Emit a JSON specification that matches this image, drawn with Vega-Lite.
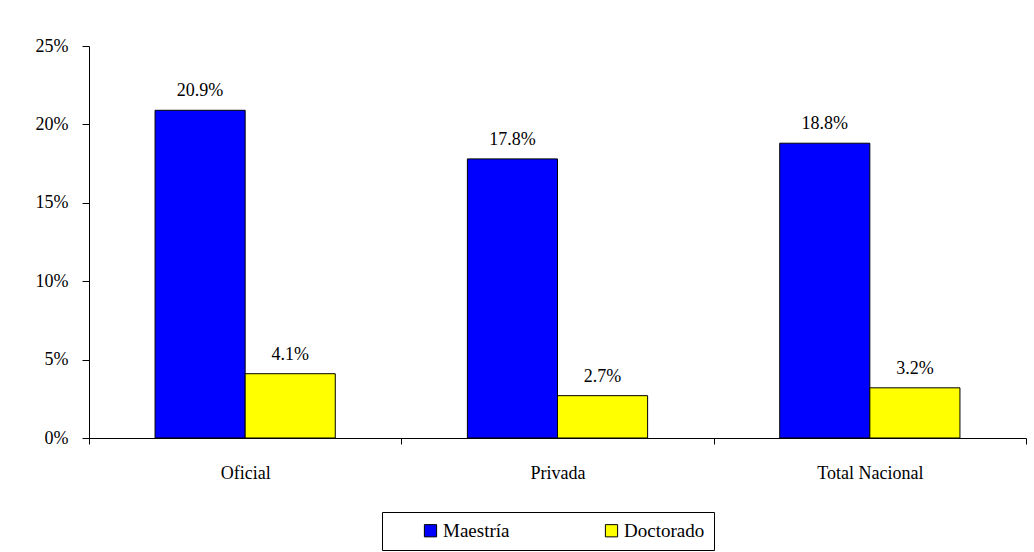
{
  "$schema": "https://vega.github.io/schema/vega-lite/v6.json",
  "autosize": "none",
  "width": 937,
  "height": 392,
  "padding": {"left": 89, "top": 46, "right": 8, "bottom": 114},
  "background": "white",
  "config": {
    "view": {"stroke": null},
    "font": "Liberation Serif",
    "axis": {"labelFont": "Liberation Serif", "labelFontSize": 18, "labelColor": "black", "domainColor": "black", "tickColor": "black", "grid": false, "title": null}
  },
  "data": {
    "values": [
      {"sector": "Oficial", "nivel": "Maestría", "valor": 0.209},
      {"sector": "Oficial", "nivel": "Doctorado", "valor": 0.041},
      {"sector": "Privada", "nivel": "Maestría", "valor": 0.178},
      {"sector": "Privada", "nivel": "Doctorado", "valor": 0.027},
      {"sector": "Total Nacional", "nivel": "Maestría", "valor": 0.188},
      {"sector": "Total Nacional", "nivel": "Doctorado", "valor": 0.032}
    ]
  },
  "encoding": {
    "x": {"field": "sector", "type": "nominal", "sort": ["Oficial", "Privada", "Total Nacional"],
      "scale": {"paddingInner": 0, "paddingOuter": 0},
      "axis": {"labelAngle": 0, "tickBand": "extent", "tickSize": 6, "labelPadding": 20, "domainWidth": 1}},
    "xOffset": {"field": "nivel", "type": "nominal", "sort": ["Maestría", "Doctorado"],
      "scale": {"paddingInner": 0, "paddingOuter": 0.733}},
    "y": {"field": "valor", "type": "quantitative", "scale": {"domain": [0, 0.25]},
      "axis": {"format": ".0%", "values": [0, 0.05, 0.1, 0.15, 0.2, 0.25], "tickSize": 7, "labelPadding": 14}}
  },
  "layer": [
    {
      "mark": {"type": "bar", "stroke": "black", "strokeWidth": 1},
      "encoding": {
        "color": {"field": "nivel", "type": "nominal", "sort": ["Maestría", "Doctorado"],
          "scale": {"domain": ["Maestría", "Doctorado"], "range": ["#0000FF", "#FFFF00"]},
          "legend": {"title": null, "orient": "none", "direction": "horizontal", "legendX": 293, "legendY": 466,
            "strokeColor": "black", "fillColor": "white", "padding": 9,
            "symbolType": "square", "symbolSize": 150, "symbolStrokeColor": "black", "symbolStrokeWidth": 1,
            "labelFont": "Liberation Serif", "labelFontSize": 19, "labelColor": "black",
            "columnPadding": 62, "symbolOffset": 30, "labelOffset": 3}}
      }
    },
    {
      "mark": {"type": "text", "baseline": "alphabetic", "dy": -14, "fontSize": 18, "font": "Liberation Serif", "color": "black"},
      "encoding": {"text": {"field": "valor", "type": "quantitative", "format": ".1%"}}
    }
  ]
}
